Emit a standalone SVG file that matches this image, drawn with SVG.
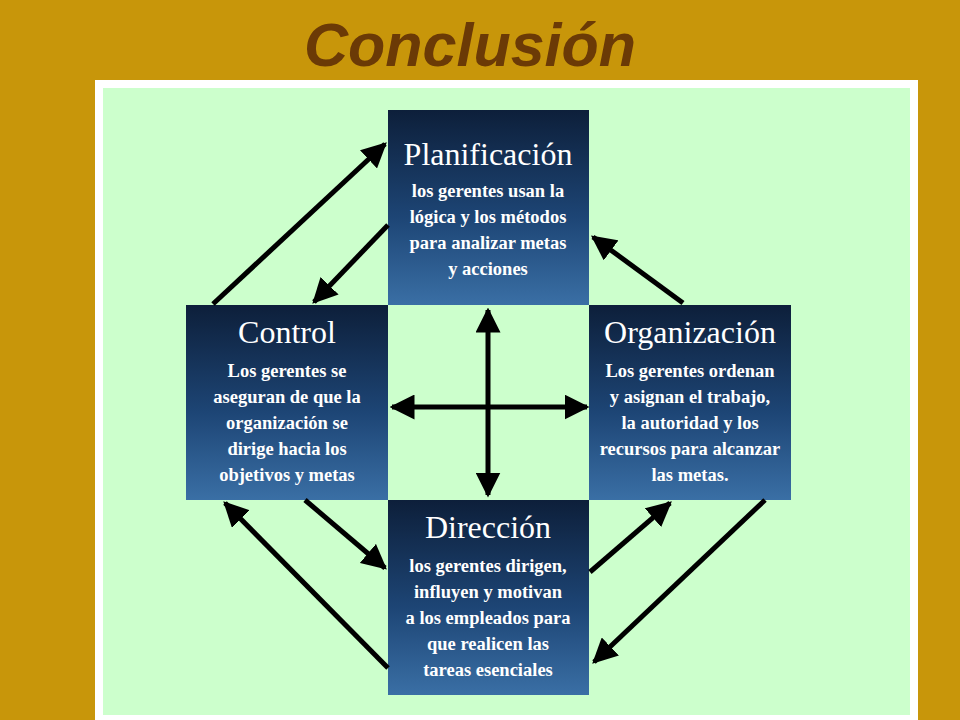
<svg xmlns="http://www.w3.org/2000/svg" width="960" height="720" viewBox="0 0 960 720">
<defs>
<linearGradient id="g" x1="0" y1="0" x2="0" y2="1">
<stop offset="0" stop-color="#0d1f3a"/><stop offset="0.55" stop-color="#1d4575"/><stop offset="1" stop-color="#3a6fa5"/>
</linearGradient>
<marker id="ah" viewBox="0 0 10 10" refX="9" refY="5" markerWidth="5" markerHeight="5" orient="auto-start-reverse">
<path d="M0,0 L10,5 L0,10 z" fill="#000"/>
</marker>
<style>
.box{fill:url(#g)}
.t{font-family:"Liberation Serif",serif;fill:#fff;text-anchor:middle}
.h{font-size:32px}
.b{font-size:18.5px;font-weight:bold}
.c line{stroke:#000;stroke-width:5;marker-end:url(#ah)}
</style>
</defs>
<rect width="960" height="720" fill="#c8960a"/>
<text x="470" y="66" font-family="Liberation Sans,sans-serif" font-size="61" font-weight="bold" font-style="italic" fill="#6b3a06" text-anchor="middle">Conclusión</text>
<rect x="95" y="80" width="823" height="640" fill="#fff"/>
<rect x="103" y="88" width="807" height="627" fill="#ccffcc"/>
<g id="planificacion"><rect class="box" x="388" y="110" width="201" height="195"/>
<text class="t h" x="488" y="165">Planificación</text>
<text class="t b" x="488" y="197">los gerentes usan la</text><text class="t b" x="488" y="223">lógica y los métodos</text><text class="t b" x="488" y="249">para analizar metas</text><text class="t b" x="488" y="275">y acciones</text></g>
<g id="control"><rect class="box" x="186" y="305" width="202" height="195"/>
<text class="t h" x="287" y="343">Control</text>
<text class="t b" x="287" y="377">Los gerentes se</text><text class="t b" x="287" y="403">aseguran de que la</text><text class="t b" x="287" y="429">organización se</text><text class="t b" x="287" y="455">dirige hacia los</text><text class="t b" x="287" y="481">objetivos y metas</text></g>
<g id="organizacion"><rect class="box" x="589" y="305" width="202" height="195"/>
<text class="t h" x="690" y="343">Organización</text>
<text class="t b" x="690" y="377">Los gerentes ordenan</text><text class="t b" x="690" y="403">y asignan el trabajo,</text><text class="t b" x="690" y="429">la autoridad y los</text><text class="t b" x="690" y="455">recursos para alcanzar</text><text class="t b" x="690" y="481">las metas.</text></g>
<g id="direccion"><rect class="box" x="388" y="500" width="201" height="195"/>
<text class="t h" x="488" y="538">Dirección</text>
<text class="t b" x="488" y="572">los gerentes dirigen,</text><text class="t b" x="488" y="598">influyen y motivan</text><text class="t b" x="488" y="624">a los empleados para</text><text class="t b" x="488" y="650">que realicen las</text><text class="t b" x="488" y="676">tareas esenciales</text></g>
<g class="c" id="connectors">
<line x1="488" y1="400" x2="488" y2="310"/><line x1="488" y1="400" x2="488" y2="495"/>
<line x1="488" y1="407" x2="392" y2="407"/><line x1="488" y1="407" x2="587" y2="407"/>
<line x1="213" y1="304" x2="385" y2="144"/>
<line x1="388" y1="225" x2="314" y2="302"/>
<line x1="683" y1="303" x2="593" y2="237"/>
<line x1="765" y1="500" x2="594" y2="662"/>
<line x1="590" y1="572" x2="670" y2="503"/>
<line x1="388" y1="668" x2="225" y2="503"/>
<line x1="305" y1="500" x2="385" y2="568"/>
</g>
</svg>
